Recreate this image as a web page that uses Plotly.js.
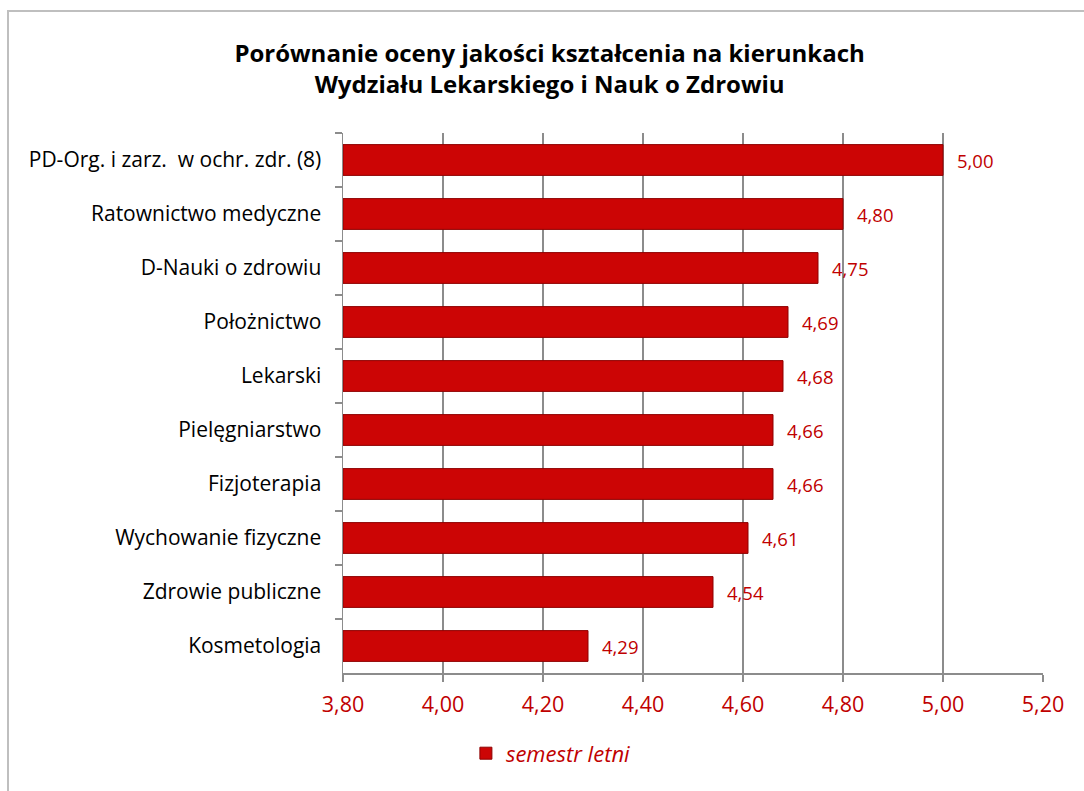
<!DOCTYPE html>
<html><head><meta charset="utf-8">
<script src="https://cdn.plot.ly/plotly-3.0.1.min.js"></script>
<style>
html,body{margin:0;padding:0;background:#fff;width:1084px;height:791px;overflow:hidden;}
#frame{position:absolute;left:7px;top:10px;width:1200px;height:900px;border-left:2px solid #BFBFBF;border-top:2px solid #BFBFBF;}
#chart{position:absolute;left:0;top:0;width:1084px;height:791px;}
</style></head>
<body><div id="frame"></div><div id="chart"></div>
<script>
const categories = ["PD-Org. i zarz.  w ochr. zdr. (8)","Ratownictwo medyczne","D-Nauki o zdrowiu","Położnictwo","Lekarski","Pielęgniarstwo","Fizjoterapia","Wychowanie fizyczne","Zdrowie publiczne","Kosmetologia"];
const values = [5.00,4.80,4.75,4.69,4.68,4.66,4.66,4.61,4.54,4.29];
const seriesName = "semestr letni";
const xTicks = [3.8,4.0,4.2,4.4,4.6,4.8,5.0,5.2];
const titleText = "Porównanie oceny jakości kształcenia na kierunkach<br>Wydziału Lekarskiego i Nauk o Zdrowiu";

const FONT = '"Open Sans", sans-serif';
const fmt = v => v.toFixed(2).replace('.', ',');
const AXIS_MIN = xTicks[0];

const trace = {
  type:'bar', orientation:'h', x: values.map(v => v - AXIS_MIN), base: AXIS_MIN,
  y: categories, name: seriesName,
  marker:{color:'#CC0505', line:{color:'#8E0000', width:1}},
  hoverinfo:'none', showlegend:true
};

const annotations = values.map((v,i)=>({
  x: v, y: categories[i], xref:'x', yref:'y', text: fmt(v), showarrow:false,
  xanchor:'left', xshift:12, font:{family:FONT, size:18.5, color:'#C00000'}
}));

const layout = {
  width:1084, height:791,
  paper_bgcolor:'rgba(0,0,0,0)', plot_bgcolor:'rgba(0,0,0,0)',
  separators:',.',
  margin:{l:343, r:41, t:133, b:118},
  title:{text:titleText, x:0.507, xanchor:'center', y:0.922, yanchor:'top',
    font:{family:FONT, size:24, color:'#000', weight:'bold'}},
  xaxis:{range:[3.8,5.2], tickvals:xTicks, ticktext:xTicks.map(fmt),
    showgrid:true, gridcolor:'#8C8C8C', gridwidth:1.5,
    showline:true, linecolor:'#8C8C8C', linewidth:1.5,
    ticks:'outside', ticklen:7, tickcolor:'#8C8C8C', tickwidth:1.5,
    tickfont:{family:FONT, size:21.5, color:'#C00000'}, ticklabelstandoff:5,
    zeroline:false, fixedrange:true},
  yaxis:{autorange:'reversed', type:'category',
    showline:true, linecolor:'#8C8C8C', linewidth:1.5,
    ticks:'outside', ticklen:7, tickcolor:'#8C8C8C', tickwidth:1.5, tickson:'boundaries',
    tickfont:{family:FONT, size:21, color:'#000'}, ticklabelstandoff:16,
    showgrid:false, fixedrange:true},
  bargap:0.43,
  showlegend:true,
  legend:{orientation:'h', x:0.297, xanchor:'center', y:-0.11, yanchor:'top',
    font:{family:FONT, size:22, color:'#C00000', style:'italic'},
    itemwidth:30},
  annotations: annotations
};

Plotly.newPlot('chart',[trace],layout,{displayModeBar:false, staticPlot:true});
</script></body></html>
